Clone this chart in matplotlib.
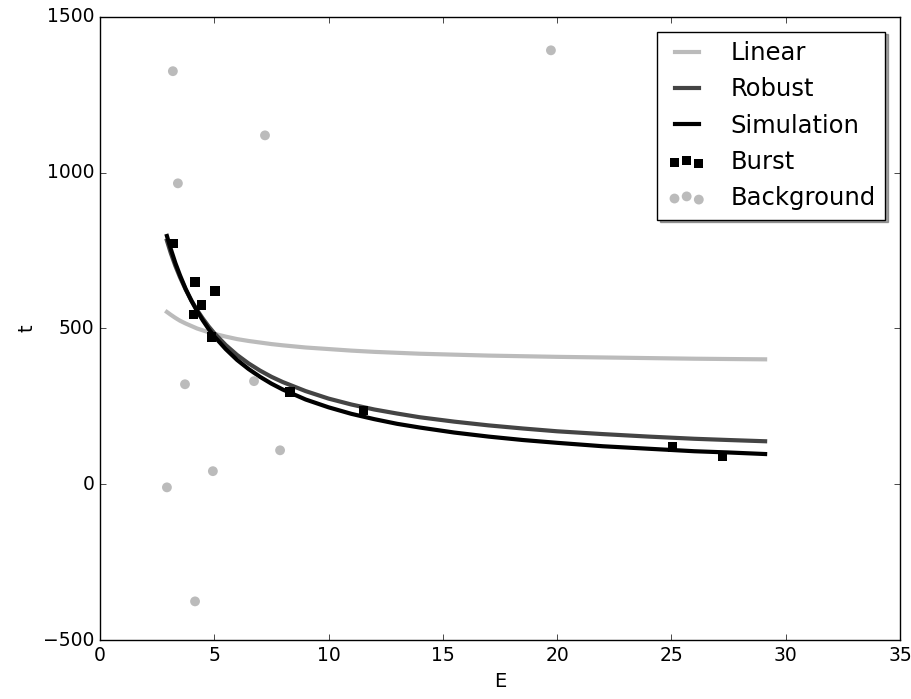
import numpy as np
import matplotlib
matplotlib.use("Agg")
import matplotlib.pyplot as plt

# curves
E_curve = [2.93, 3.1, 3.3, 3.5, 3.75, 4, 4.25, 4.5, 4.75, 5, 5.5, 6, 6.5, 7, 7.5, 8,
           9, 10, 11, 12, 13, 14, 15.5, 17, 18.5, 20, 22, 24, 26, 27.5, 29.1]
t_linear = [553, 544, 534, 525, 516, 508, 500, 494, 488, 483, 474, 466, 460, 455, 450, 446,
            439, 434, 429, 425, 422, 419, 416, 413, 411, 409, 407, 405, 403, 402, 401]
t_robust = [782, 742, 701, 665, 625, 590, 559, 532, 507, 485, 447, 415, 388, 365, 345, 328,
            299, 275, 256, 240, 227, 215, 201, 189, 179, 170, 161, 153, 146, 142, 138]
t_sim = [797, 755, 710, 671, 627, 589, 556, 526, 499, 475, 434, 399, 370, 345, 323, 304,
         272, 247, 226, 209, 194, 182, 166, 153, 142, 133, 122, 114, 106, 102, 97]

# points
E_burst = [3.21, 4.16, 5.03, 4.45, 4.08, 4.89, 8.31, 11.52, 25.05, 27.24]
t_burst = [773, 649, 620, 575, 545, 473, 296, 237, 120, 88]
E_bg = [3.19, 3.41, 7.22, 19.73, 3.72, 6.74, 7.88, 4.94, 2.93, 4.16]
t_bg = [1326, 966, 1120, 1393, 321, 331, 109, 42, -10, -376]

def makePlot():
    plt.style.use("classic")
    fig = plt.figure(figsize=(9.12, 6.99), dpi=100)
    ax = fig.add_axes([0.1096, 0.0844, 0.8772, 0.8913])
    ax.plot(E_curve, t_linear, color="#bbbbbb", lw=3, label="Linear")
    ax.plot(E_curve, t_robust, color="#444444", lw=3, label="Robust")
    ax.plot(E_curve, t_sim, color="black", lw=3, label="Simulation")
    ax.scatter(E_burst, t_burst, marker="s", s=45, color="black",
               edgecolor="none", label="Burst", zorder=3)
    ax.scatter(E_bg, t_bg, marker="o", s=50, color="#bbbbbb",
               edgecolor="none", label="Background", zorder=3)
    ax.set_xlim(0, 35)
    ax.set_ylim(-500, 1500)
    ax.set_yticks([-500, 0, 500, 1000, 1500])
    ax.set_xlabel("E", fontsize=14)
    ax.set_ylabel("t", fontsize=14)
    ax.tick_params(labelsize=13.5)
    ax.legend(loc="upper right", shadow=True, fontsize=17.5,
              handlelength=1.6, handletextpad=1.0, borderaxespad=0.6)
    fig.savefig("out.png", dpi=100)

makePlot()
